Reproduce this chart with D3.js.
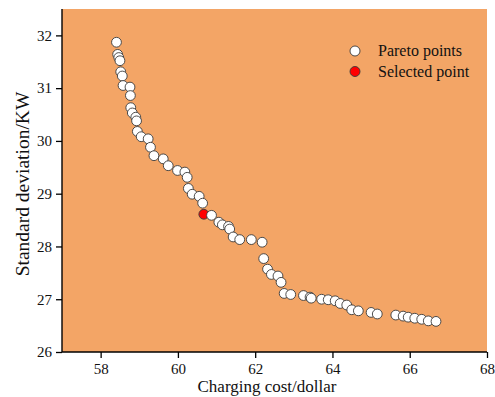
<!DOCTYPE html>
<html>
<head>
<meta charset="utf-8">
<script src="https://cdn.jsdelivr.net/npm/d3@7"></script>
<style>
  html, body { margin: 0; padding: 0; background: #ffffff; }
  svg { display: block; }
  svg text { font-family: "Liberation Serif", "Times New Roman", serif; }
</style>
</head>
<body>
<svg id="chart" width="495" height="397"></svg>
<script>
// ---- data ----
const paretoCost = [58.41, 58.44, 58.47, 58.50, 58.52, 58.56, 58.58, 58.76, 58.77, 58.78,
  58.82, 58.91, 58.93, 58.95, 59.05, 59.23, 59.29, 59.38, 59.62, 59.75,
  59.99, 60.18, 60.24, 60.27, 60.37, 60.55, 60.64, 60.87, 61.06, 61.15,
  61.31, 61.34, 61.43, 61.60, 61.90, 62.18, 62.22, 62.32, 62.42, 62.59,
  62.67, 62.75, 62.92, 63.25, 63.42, 63.45, 63.72, 63.89, 64.07, 64.20,
  64.37, 64.50, 64.67, 65.00, 65.16, 65.64, 65.83, 65.96, 66.13, 66.31,
  66.48, 66.68];
const paretoStd = [31.87, 31.64, 31.58, 31.52, 31.31, 31.23, 31.05, 31.02, 30.86, 30.63,
  30.53, 30.45, 30.38, 30.18, 30.08, 30.04, 29.88, 29.72, 29.66, 29.53,
  29.44, 29.41, 29.31, 29.10, 28.99, 28.95, 28.82, 28.59, 28.46, 28.41,
  28.38, 28.33, 28.18, 28.13, 28.13, 28.08, 27.77, 27.57, 27.47, 27.44,
  27.32, 27.11, 27.09, 27.07, 27.04, 27.02, 27.00, 26.99, 26.97, 26.92,
  26.89, 26.80, 26.78, 26.75, 26.72, 26.70, 26.68, 26.66, 26.64, 26.62,
  26.59, 26.58];
const selectedCost = [60.67];
const selectedStd = [28.61];
const xTicks = [58, 60, 62, 64, 66, 68];
const yTicks = [26, 27, 28, 29, 30, 31, 32];
const legendLabels = ["Pareto points", "Selected point"];
const xDomain = [57, 68];
const yDomain = [26, 32.5];

// ---- layout ----
const FONT = "'Liberation Serif', 'Times New Roman', serif";
const svg = d3.select("#chart");
const L = 62, R = 487, T = 9, B = 352;
const x = d3.scaleLinear().domain(xDomain).range([L, R]);
const y = d3.scaleLinear().domain(yDomain).range([B, T]);

svg.append("rect").attr("x", L).attr("y", T).attr("width", R - L).attr("height", B - T)
  .attr("fill", "#F3A566");

// points: merge so draw order follows cost (white after red overlaps it)
const pts = paretoCost.map((c, i) => ({c, s: paretoStd[i], sel: false}))
  .concat(selectedCost.map((c, i) => ({c, s: selectedStd[i], sel: true})))
  .sort((a, b) => a.c - b.c);

svg.append("g").selectAll("circle").data(pts).join("circle")
  .attr("cx", d => x(d.c)).attr("cy", d => y(d.s)).attr("r", 4.9)
  .attr("fill", d => d.sel ? "#ff0000" : "#ffffff")
  .attr("stroke", "#3a3a3a").attr("stroke-width", 0.9);

// axes
const xAxis = svg.append("g").attr("transform", `translate(0,${B})`)
  .call(d3.axisBottom(x).tickValues(xTicks).tickSize(6).tickPadding(5).tickFormat(d3.format("d")));
const yAxis = svg.append("g").attr("transform", `translate(${L},0)`)
  .call(d3.axisLeft(y).tickValues(yTicks).tickSize(6).tickPadding(4).tickFormat(d3.format("d")));
[xAxis, yAxis].forEach(a => {
  a.attr("font-family", FONT);
  a.select(".domain").attr("stroke", "#000").attr("stroke-width", 1.4);
  a.selectAll(".tick line").attr("stroke", "#000").attr("stroke-width", 1.3);
  a.selectAll(".tick text").attr("fill", "#111").attr("font-size", 15).attr("font-family", FONT);
});
xAxis.select(".domain").attr("d", `M${L},0H${R}`);
yAxis.select(".domain").attr("d", `M0,${B}V${T}`);

// axis titles
svg.append("text").attr("x", 267).attr("y", 392).attr("text-anchor", "middle")
  .attr("font-family", FONT).attr("font-size", 17).attr("fill", "#111").text("Charging cost/dollar");
svg.append("text").attr("transform", "translate(29,184) rotate(-90)").attr("text-anchor", "middle")
  .attr("font-family", FONT).attr("font-size", 19.5).attr("fill", "#111").text("Standard deviation/KW");

// legend
const legendFill = ["#ffffff", "#ff0000"];
const lg = svg.append("g");
legendLabels.forEach((t, i) => {
  lg.append("circle").attr("cx", 355).attr("cy", 51 + i * 20.5).attr("r", 5)
    .attr("fill", legendFill[i]).attr("stroke", "#3a3a3a").attr("stroke-width", 0.9);
  lg.append("text").attr("x", 378).attr("y", 56 + i * 20.5).attr("font-family", FONT)
    .attr("font-size", 16).attr("fill", "#111").text(t);
});
</script>
</body>
</html>
